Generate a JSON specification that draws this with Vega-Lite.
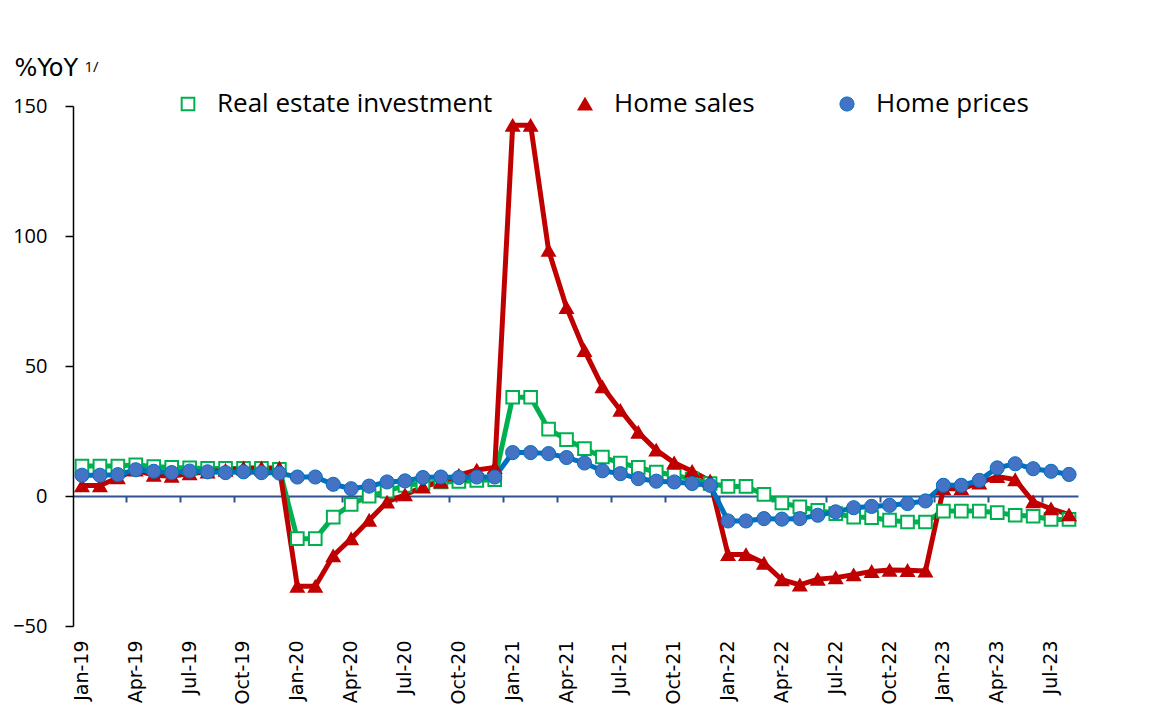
{
  "$schema": "https://vega.github.io/schema/vega-lite/v6.json",
  "width": 1005,
  "height": 520,
  "autosize": {"type": "none"},
  "padding": {"left": 73, "top": 106, "right": 75, "bottom": 95},
  "background": "white",
  "config": {"view": {"stroke": null}, "font": "Open Sans"},
  "data": {"values": [
    {"month": "Jan-19", "Real estate investment": 11.5, "Home sales": 4, "Home prices": 8},
    {"month": "Feb-19", "Real estate investment": 11.5, "Home sales": 4, "Home prices": 8},
    {"month": "Mar-19", "Real estate investment": 11.5, "Home sales": 7, "Home prices": 8.2},
    {"month": "Apr-19", "Real estate investment": 12, "Home sales": 10, "Home prices": 10.1},
    {"month": "May-19", "Real estate investment": 11.3, "Home sales": 8, "Home prices": 9.5},
    {"month": "Jun-19", "Real estate investment": 11, "Home sales": 7.6, "Home prices": 9},
    {"month": "Jul-19", "Real estate investment": 10.8, "Home sales": 8.6, "Home prices": 9.6},
    {"month": "Aug-19", "Real estate investment": 10.6, "Home sales": 9.3, "Home prices": 9.3},
    {"month": "Sep-19", "Real estate investment": 10.6, "Home sales": 9.9, "Home prices": 9},
    {"month": "Oct-19", "Real estate investment": 10.6, "Home sales": 10.8, "Home prices": 9.3},
    {"month": "Nov-19", "Real estate investment": 10.6, "Home sales": 10.8, "Home prices": 9},
    {"month": "Dec-19", "Real estate investment": 10.3, "Home sales": 10.8, "Home prices": 8.8},
    {"month": "Jan-20", "Real estate investment": -16.4, "Home sales": -34.7, "Home prices": 7.3},
    {"month": "Feb-20", "Real estate investment": -16.4, "Home sales": -34.7, "Home prices": 7.3},
    {"month": "Mar-20", "Real estate investment": -8.1, "Home sales": -23, "Home prices": 4.5},
    {"month": "Apr-20", "Real estate investment": -3.2, "Home sales": -16.4, "Home prices": 2.8},
    {"month": "May-20", "Real estate investment": -0.1, "Home sales": -9.3, "Home prices": 3.8},
    {"month": "Jun-20", "Real estate investment": 1.9, "Home sales": -2.3, "Home prices": 5.4},
    {"month": "Jul-20", "Real estate investment": 4.1, "Home sales": 0.5, "Home prices": 5.8},
    {"month": "Aug-20", "Real estate investment": 4.8, "Home sales": 3.5, "Home prices": 7.1},
    {"month": "Sep-20", "Real estate investment": 5.4, "Home sales": 5.4, "Home prices": 7.3},
    {"month": "Oct-20", "Real estate investment": 5.6, "Home sales": 8, "Home prices": 7.1},
    {"month": "Nov-20", "Real estate investment": 6, "Home sales": 10, "Home prices": 7.3},
    {"month": "Dec-20", "Real estate investment": 6.3, "Home sales": 11, "Home prices": 7.3},
    {"month": "Jan-21", "Real estate investment": 38, "Home sales": 142.6, "Home prices": 16.7},
    {"month": "Feb-21", "Real estate investment": 38, "Home sales": 142.6, "Home prices": 16.7},
    {"month": "Mar-21", "Real estate investment": 25.7, "Home sales": 94.5, "Home prices": 16.3},
    {"month": "Apr-21", "Real estate investment": 21.7, "Home sales": 72.5, "Home prices": 14.8},
    {"month": "May-21", "Real estate investment": 18.2, "Home sales": 56, "Home prices": 12.7},
    {"month": "Jun-21", "Real estate investment": 15, "Home sales": 42, "Home prices": 9.7},
    {"month": "Jul-21", "Real estate investment": 12.7, "Home sales": 33, "Home prices": 8.6},
    {"month": "Aug-21", "Real estate investment": 11, "Home sales": 24.5, "Home prices": 6.7},
    {"month": "Sep-21", "Real estate investment": 9.2, "Home sales": 17.7, "Home prices": 5.7},
    {"month": "Oct-21", "Real estate investment": 8, "Home sales": 12.8, "Home prices": 5.4},
    {"month": "Nov-21", "Real estate investment": 6.5, "Home sales": 9.5, "Home prices": 4.8},
    {"month": "Dec-21", "Real estate investment": 4.8, "Home sales": 5.8, "Home prices": 4.1},
    {"month": "Jan-22", "Real estate investment": 3.7, "Home sales": -22.5, "Home prices": -9.6},
    {"month": "Feb-22", "Real estate investment": 3.7, "Home sales": -22.5, "Home prices": -9.6},
    {"month": "Mar-22", "Real estate investment": 0.6, "Home sales": -25.8, "Home prices": -8.7},
    {"month": "Apr-22", "Real estate investment": -2.7, "Home sales": -32.2, "Home prices": -8.9},
    {"month": "May-22", "Real estate investment": -4.2, "Home sales": -34.2, "Home prices": -8.7},
    {"month": "Jun-22", "Real estate investment": -5.5, "Home sales": -32, "Home prices": -7.4},
    {"month": "Jul-22", "Real estate investment": -6.8, "Home sales": -31.4, "Home prices": -6.1},
    {"month": "Aug-22", "Real estate investment": -8.1, "Home sales": -30.3, "Home prices": -4.5},
    {"month": "Sep-22", "Real estate investment": -8.3, "Home sales": -29, "Home prices": -4},
    {"month": "Oct-22", "Real estate investment": -9.3, "Home sales": -28.5, "Home prices": -3.6},
    {"month": "Nov-22", "Real estate investment": -10, "Home sales": -28.6, "Home prices": -2.9},
    {"month": "Dec-22", "Real estate investment": -10, "Home sales": -28.8, "Home prices": -1.9},
    {"month": "Jan-23", "Real estate investment": -5.8, "Home sales": 2.8, "Home prices": 4.1},
    {"month": "Feb-23", "Real estate investment": -5.8, "Home sales": 2.8, "Home prices": 4.1},
    {"month": "Mar-23", "Real estate investment": -5.8, "Home sales": 5, "Home prices": 6},
    {"month": "Apr-23", "Real estate investment": -6.4, "Home sales": 7.5, "Home prices": 10.8},
    {"month": "May-23", "Real estate investment": -7.4, "Home sales": 6.3, "Home prices": 12.4},
    {"month": "Jun-23", "Real estate investment": -7.8, "Home sales": -2.2, "Home prices": 10.5},
    {"month": "Jul-23", "Real estate investment": -9, "Home sales": -4.9, "Home prices": 9.5},
    {"month": "Aug-23", "Real estate investment": -9, "Home sales": -7.2, "Home prices": 8.3}
  ]},
  "encoding": {
    "y": {
      "field": "value",
      "type": "quantitative",
      "scale": {"domain": [-50, 150], "nice": false, "zero": false},
      "axis": {
        "values": [-50, 0, 50, 100, 150],
        "grid": false,
        "domainColor": "black",
        "domainWidth": 1.5,
        "tickColor": "black",
        "tickSize": 8,
        "tickWidth": 1.5,
        "labelFont": "Open Sans",
        "labelFontSize": 20,
        "labelColor": "black",
        "labelPadding": 18,
        "title": "%YoY",
        "titleAngle": 0,
        "titleAlign": "left",
        "titleBaseline": "alphabetic",
        "titleX": -59,
        "titleY": -31,
        "titleFont": "DejaVu Sans",
        "titleFontSize": 24,
        "titleFontWeight": "normal",
        "titleColor": "black"
      }
    }
  },
  "layer": [
    {
      "transform": [{"fold": ["Real estate investment", "Home sales", "Home prices"], "as": ["series", "value"]}],
      "mark": {"type": "line", "strokeWidth": 5},
      "encoding": {
        "x": {
          "field": "month",
          "type": "ordinal",
          "sort": null,
          "scale": {"type": "band", "paddingInner": 0, "paddingOuter": 0},
          "axis": {
            "orient": "bottom",
            "offset": -130,
            "values": ["Jan-19", "Apr-19", "Jul-19", "Oct-19", "Jan-20", "Apr-20", "Jul-20", "Oct-20", "Jan-21", "Apr-21", "Jul-21", "Oct-21", "Jan-22", "Apr-22", "Jul-22", "Oct-22", "Jan-23", "Apr-23", "Jul-23"],
            "bandPosition": 0,
            "labels": false,
            "title": null,
            "grid": false,
            "domainColor": "#2F528F",
            "domainWidth": 2,
            "tickColor": "#2F528F",
            "tickSize": 6,
            "tickWidth": 2
          }
        },
        "color": {
          "field": "series",
          "type": "nominal",
          "scale": {"domain": ["Real estate investment", "Home sales", "Home prices"], "range": ["#00B050", "#C00000", "#0070C0"]},
          "legend": {
            "orient": "none",
            "legendX": 102,
            "legendY": -15,
            "direction": "horizontal",
            "columns": 3,
            "title": null,
            "padding": 0,
            "labelFont": "Open Sans",
            "labelFontSize": 26,
            "labelColor": "black",
            "labelLimit": 500,
            "symbolSize": 196,
            "labelOffset": 16,
            "columnPadding": 79
          }
        }
      }
    },
    {
      "transform": [{"fold": ["Real estate investment", "Home sales", "Home prices"], "as": ["kind", "value"]}],
      "mark": {"type": "point", "filled": true, "opacity": 1},
      "encoding": {
        "x": {
          "field": "month",
          "type": "ordinal",
          "sort": null,
          "scale": {"type": "band", "paddingInner": 0, "paddingOuter": 0},
          "axis": {
            "orient": "bottom",
            "offset": 0,
            "domain": false,
            "ticks": false,
            "grid": false,
            "labelExpr": "indexof(['Jan', 'Apr', 'Jul', 'Oct'], slice(datum.label, 0, 3)) >= 0 ? datum.label : ''",
            "labelAngle": 270,
            "labelAlign": "right",
            "labelBaseline": "middle",
            "labelPadding": 14,
            "labelFont": "DejaVu Sans",
            "labelFontSize": 19,
            "labelColor": "black",
            "labelOverlap": false,
            "labelFlush": false,
            "labelBound": false,
            "title": "1/",
            "titleX": 11,
            "titleY": -555,
            "titleAngle": 0,
            "titleAlign": "left",
            "titleBaseline": "alphabetic",
            "titleFont": "Open Sans",
            "titleFontSize": 15,
            "titleFontWeight": "normal",
            "titleColor": "black"
          }
        },
        "fill": {
          "field": "kind",
          "type": "nominal",
          "scale": {"domain": ["Real estate investment", "Home sales", "Home prices"], "range": ["#FFFFFF", "#C00000", "#4472C4"]},
          "legend": null
        },
        "stroke": {
          "field": "kind",
          "type": "nominal",
          "scale": {"domain": ["Real estate investment", "Home sales", "Home prices"], "range": ["#00B050", "#C00000", "#0070C0"]},
          "legend": null
        },
        "shape": {
          "field": "kind",
          "type": "nominal",
          "scale": {"domain": ["Real estate investment", "Home sales", "Home prices"], "range": ["square", "triangle-up", "circle"]},
          "legend": null
        },
        "size": {
          "field": "kind",
          "type": "nominal",
          "scale": {"domain": ["Real estate investment", "Home sales", "Home prices"], "range": [160, 200, 180]},
          "legend": null
        },
        "strokeWidth": {
          "field": "kind",
          "type": "nominal",
          "scale": {"domain": ["Real estate investment", "Home sales", "Home prices"], "range": [2, 1, 1.5]},
          "legend": null
        }
      }
    },
    {
      "data": {"values": [{"note": "Aug 2023"}]},
      "mark": {"type": "text", "align": "right", "baseline": "alphabetic", "dx": 20, "font": "Open Sans", "fontSize": 25, "color": "black"},
      "encoding": {
        "x": {"datum": "Aug-23", "type": "ordinal", "axis": null},
        "y": {"datum": 25, "type": "quantitative"},
        "text": {"field": "note"}
      }
    }
  ],
  "resolve": {"axis": {"x": "independent"}}
}
